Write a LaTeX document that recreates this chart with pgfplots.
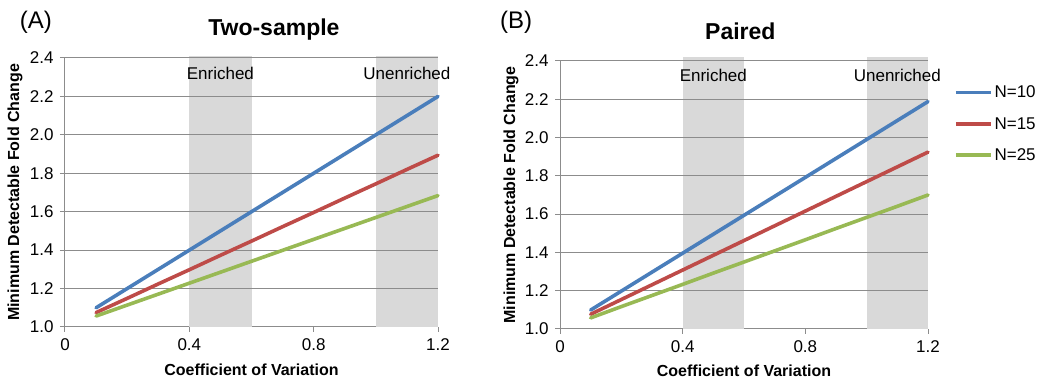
\documentclass[border=0pt]{standalone}
\usepackage{fontspec}
\setmainfont{Liberation Sans}
\usepackage{pgfplots}
\pgfplotsset{compat=1.18}
\definecolor{cblue}{HTML}{4A7EBB}
\definecolor{cred}{HTML}{BE4B48}
\definecolor{cgreen}{HTML}{98B954}
\definecolor{band}{HTML}{D9D9D9}
\definecolor{gridc}{HTML}{8C8C8C}
\pgfplotsset{
  mystyle/.style={
    scale only axis,
    xmin=0, xmax=1.2, ymin=1, ymax=2.4,
    xtick={0,0.4,0.8,1.2},
    xticklabels={0,0.4,0.8,1.2},
    ytick={1.0,1.2,1.4,1.6,1.8,2.0,2.2,2.4},
    yticklabels={1.0,1.2,1.4,1.6,1.8,2.0,2.2,2.4},
    axis x line*=bottom, axis y line*=left,
    axis line style={gridc, line width=1pt, -},
    tick style={gridc, line width=1pt},
    tick align=outside, major tick length=5pt,
    ticklabel style={font=\fontsize{17}{20}\selectfont, text=black},
    /pgf/number format/assume math mode=true,
    xticklabel style={yshift=-3pt},
    yticklabel style={xshift=-3pt},
    label style={font=\fontsize{16}{19}\bfseries},
    clip=false,
    every axis plot/.append style={line width=3.6pt, line cap=round},
  }
}
\begin{document}
\begin{tikzpicture}[x=1pt,y=1pt]
\path[use as bounding box] (0,0) rectangle (1042,382);
% Panel A
\begin{axis}[mystyle, at={(65pt,55pt)}, anchor=south west, width=373pt, height=269pt,
  xlabel={Coefficient of Variation},
  xlabel style={at={(axis description cs:0.5,-0.16)}, anchor=center},
  ylabel={Minimum Detectable Fold Change},
  ylabel style={at={(axis description cs:-0.134,0.5)}, anchor=center},
]
\fill[band] (axis cs:0.4,1) rectangle (axis cs:0.6,2.41);
\fill[band] (axis cs:1.0,1) rectangle (axis cs:1.2,2.41);
\pgfplotsinvokeforeach{1.2,1.4,1.6,1.8,2.0,2.2,2.4}{\draw[gridc, line width=1pt] (axis cs:0,#1) -- (axis cs:1.2,#1);}
\node[font=\fontsize{17}{20}\selectfont] at (axis cs:0.5,2.322) {Enriched};
\node[font=\fontsize{17}{20}\selectfont] at (axis cs:1.1,2.322) {Unenriched};
\node[font=\fontsize{23}{27}\bfseries] at (axis description cs:0.56,1.104) {Two-sample};
\node[font=\fontsize{24}{28}\selectfont] at (axis description cs:-0.078,1.134) {(A)};
\addplot[cblue] coordinates {(0.1,1.100)(0.2,1.200)(0.3,1.300)(0.4,1.400)(0.5,1.500)(0.6,1.600)(0.7,1.700)(0.8,1.800)(0.9,1.900)(1.0,2.000)(1.1,2.100)(1.2,2.200)};
\addplot[cred] coordinates {(0.1,1.075)(0.2,1.149)(0.3,1.224)(0.4,1.298)(0.5,1.373)(0.6,1.447)(0.7,1.522)(0.8,1.596)(0.9,1.671)(1.0,1.745)(1.1,1.820)(1.2,1.894)};
\addplot[cgreen] coordinates {(0.1,1.057)(0.2,1.114)(0.3,1.171)(0.4,1.228)(0.5,1.285)(0.6,1.342)(0.7,1.399)(0.8,1.456)(0.9,1.513)(1.0,1.570)(1.1,1.627)(1.2,1.684)};
\end{axis}
% Panel B
\begin{axis}[mystyle, at={(560pt,53pt)}, anchor=south west, width=368pt, height=268pt,
  xlabel={Coefficient of Variation},
  xlabel style={at={(axis description cs:0.5,-0.157)}, anchor=center},
  ylabel={Minimum Detectable Fold Change},
  ylabel style={at={(axis description cs:-0.133,0.5)}, anchor=center},
  legend style={at={(axis description cs:1.07,0.915)}, anchor=north west, draw=none, fill=none,
    font=\fontsize{17}{20}\selectfont, row sep=14pt, inner sep=0pt,
    /tikz/every even column/.append style={column sep=0pt}},
  legend cell align=left,
  legend image code/.code={\draw[#1, line width=3.6pt, line cap=butt] (0pt,0pt) -- (35pt,0pt);},
]
\fill[band] (axis cs:0.4,1) rectangle (axis cs:0.6,2.42);
\fill[band] (axis cs:1.0,1) rectangle (axis cs:1.2,2.42);
\pgfplotsinvokeforeach{1.2,1.4,1.6,1.8,2.0,2.2,2.4}{\draw[gridc, line width=1pt] (axis cs:0,#1) -- (axis cs:1.2,#1);}
\node[font=\fontsize{17}{20}\selectfont] at (axis cs:0.5,2.327) {Enriched};
\node[font=\fontsize{17}{20}\selectfont] at (axis cs:1.1,2.327) {Unenriched};
\node[font=\fontsize{23}{27}\bfseries] at (axis description cs:0.49,1.112) {Paired};
\node[font=\fontsize{24}{28}\selectfont] at (axis description cs:-0.119,1.146) {(B)};
\addplot[cblue] coordinates {(0.1,1.099)(0.2,1.198)(0.3,1.297)(0.4,1.396)(0.5,1.495)(0.6,1.594)(0.7,1.693)(0.8,1.792)(0.9,1.891)(1.0,1.990)(1.1,2.089)(1.2,2.188)};
\addlegendentry{N=10}
\addplot[cred] coordinates {(0.1,1.077)(0.2,1.154)(0.3,1.231)(0.4,1.308)(0.5,1.385)(0.6,1.462)(0.7,1.539)(0.8,1.616)(0.9,1.693)(1.0,1.770)(1.1,1.847)(1.2,1.924)};
\addlegendentry{N=15}
\addplot[cgreen] coordinates {(0.1,1.058)(0.2,1.117)(0.3,1.175)(0.4,1.233)(0.5,1.292)(0.6,1.350)(0.7,1.408)(0.8,1.466)(0.9,1.525)(1.0,1.583)(1.1,1.641)(1.2,1.700)};
\addlegendentry{N=25}
\end{axis}
\end{tikzpicture}
\end{document}
